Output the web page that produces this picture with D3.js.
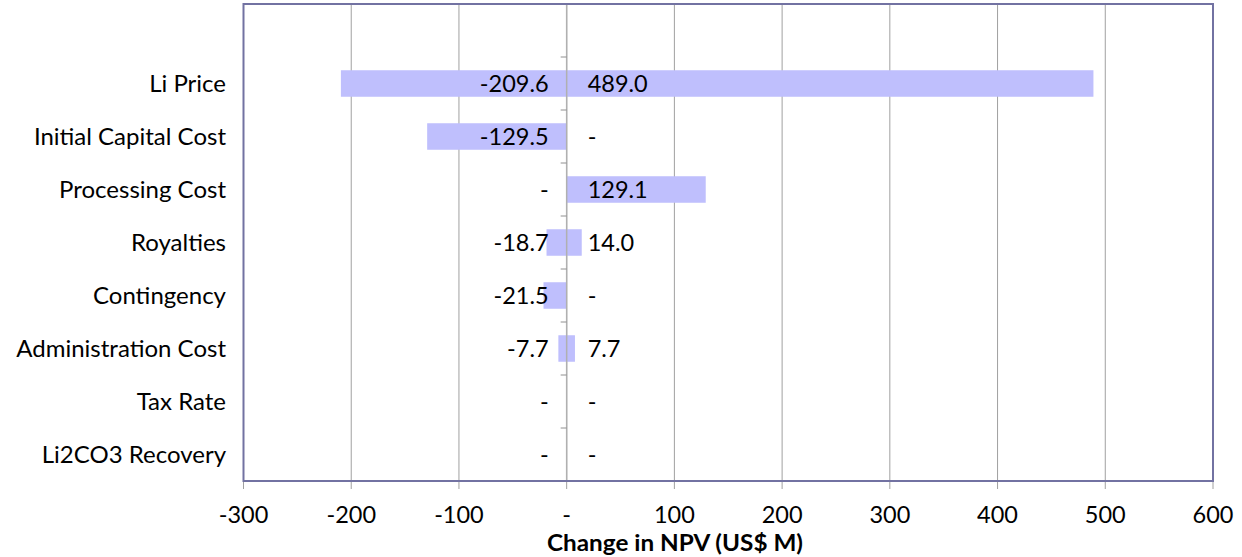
<!DOCTYPE html>
<html>
<head>
<meta charset="utf-8">
<script src="https://cdn.jsdelivr.net/npm/d3@7"></script>
<style>
  html, body { margin: 0; padding: 0; background: #fff; }
  svg { display: block; }
  text { font-family: Lato, "Open Sans", "Liberation Sans", sans-serif; fill: #000; }
</style>
</head>
<body>
<svg id="chart" width="1242" height="557"></svg>
<script>
// Sensitivity of NPV to each input (US$ M)
const categories = ["Li Price", "Initial Capital Cost", "Processing Cost", "Royalties",
                    "Contingency", "Administration Cost", "Tax Rate", "Li2CO3 Recovery"];
const downside = [-209.6, -129.5, 0, -18.7, -21.5, -7.7, 0, 0];
const upside   = [489.0, 0, 129.1, 14.0, 0, 7.7, 0, 0];
const xTicks   = [-300, -200, -100, 0, 100, 200, 300, 400, 500, 600];

const svg = d3.select("#chart");
const plotL = 243.5, plotR = 1213, plotT = 4, plotB = 481;
const fs = "23.5px";

const x = d3.scaleLinear().domain([-300, 600]).range([plotL, plotR]);
// one empty slot above the first category
const slots = [""].concat(categories);
const y = d3.scaleBand().domain(slots).range([plotT, plotB]).paddingInner(0).paddingOuter(0);
const barH = y.bandwidth() * 0.5;

const fmt = v => v === 0 ? "-" : v.toFixed(1);
const fmtTick = v => v === 0 ? "-" : String(v);

// vertical gridlines
svg.append("g").selectAll("line").data(xTicks).join("line")
  .attr("x1", d => x(d)).attr("x2", d => x(d))
  .attr("y1", plotT).attr("y2", plotB + 8)
  .attr("stroke", "#a0a0a0").attr("stroke-width", 1);

// bars
const rows = categories.map((c, i) => ({ c, lo: downside[i], hi: upside[i] }));
const bars = svg.append("g");
bars.selectAll("rect.lo").data(rows).join("rect")
  .attr("x", d => x(d.lo)).attr("width", d => x(0) - x(d.lo))
  .attr("y", d => y(d.c) + (y.bandwidth() - barH) / 2).attr("height", barH)
  .attr("fill", "#bfbffd");
bars.selectAll("rect.hi").data(rows).join("rect")
  .attr("x", x(0)).attr("width", d => x(d.hi) - x(0))
  .attr("y", d => y(d.c) + (y.bandwidth() - barH) / 2).attr("height", barH)
  .attr("fill", "#bfbffd");

// central category axis with boundary ticks
const cAxis = svg.append("g");
cAxis.append("line").attr("x1", x(0)).attr("x2", x(0)).attr("y1", plotT).attr("y2", plotB)
  .attr("stroke", "#b0b0b0").attr("stroke-width", 1.5);
cAxis.selectAll("line.t").data(slots.slice(1)).join("line")
  .attr("x1", x(0) - 6).attr("x2", x(0))
  .attr("y1", d => y(d)).attr("y2", d => y(d))
  .attr("stroke", "#909090").attr("stroke-width", 1);

// value labels
const lbl = svg.append("g").style("font-size", fs);
lbl.selectAll("text.lo").data(rows).join("text")
  .attr("x", x(0) - 18).attr("y", d => y(d.c) + y.bandwidth() / 2)
  .attr("dy", "0.36em").attr("text-anchor", "end").text(d => fmt(d.lo));
lbl.selectAll("text.hi").data(rows).join("text")
  .attr("x", x(0) + 21).attr("y", d => y(d.c) + y.bandwidth() / 2)
  .attr("dy", "0.36em").attr("text-anchor", "start").text(d => fmt(d.hi));

// category labels
svg.append("g").style("font-size", "24px").selectAll("text").data(categories).join("text")
  .attr("x", 226).attr("y", d => y(d) + y.bandwidth() / 2)
  .attr("dy", "0.36em").attr("text-anchor", "end").text(d => d);

// frame
svg.append("rect").attr("x", plotL).attr("y", plotT)
  .attr("width", plotR - plotL).attr("height", plotB - plotT)
  .attr("fill", "none").attr("stroke", "#7272a2").attr("stroke-width", 2);

// x axis tick labels
svg.append("g").style("font-size", fs).selectAll("text").data(xTicks).join("text")
  .attr("x", d => x(d)).attr("y", 523).attr("text-anchor", "middle").text(fmtTick);

// axis title
svg.append("text").attr("x", 675).attr("y", 551).attr("text-anchor", "middle")
  .attr("textLength", 256).attr("lengthAdjust", "spacingAndGlyphs")
  .style("font-size", "22px").style("font-weight", "bold").text("Change in NPV (US$ M)");
</script>
</body>
</html>
